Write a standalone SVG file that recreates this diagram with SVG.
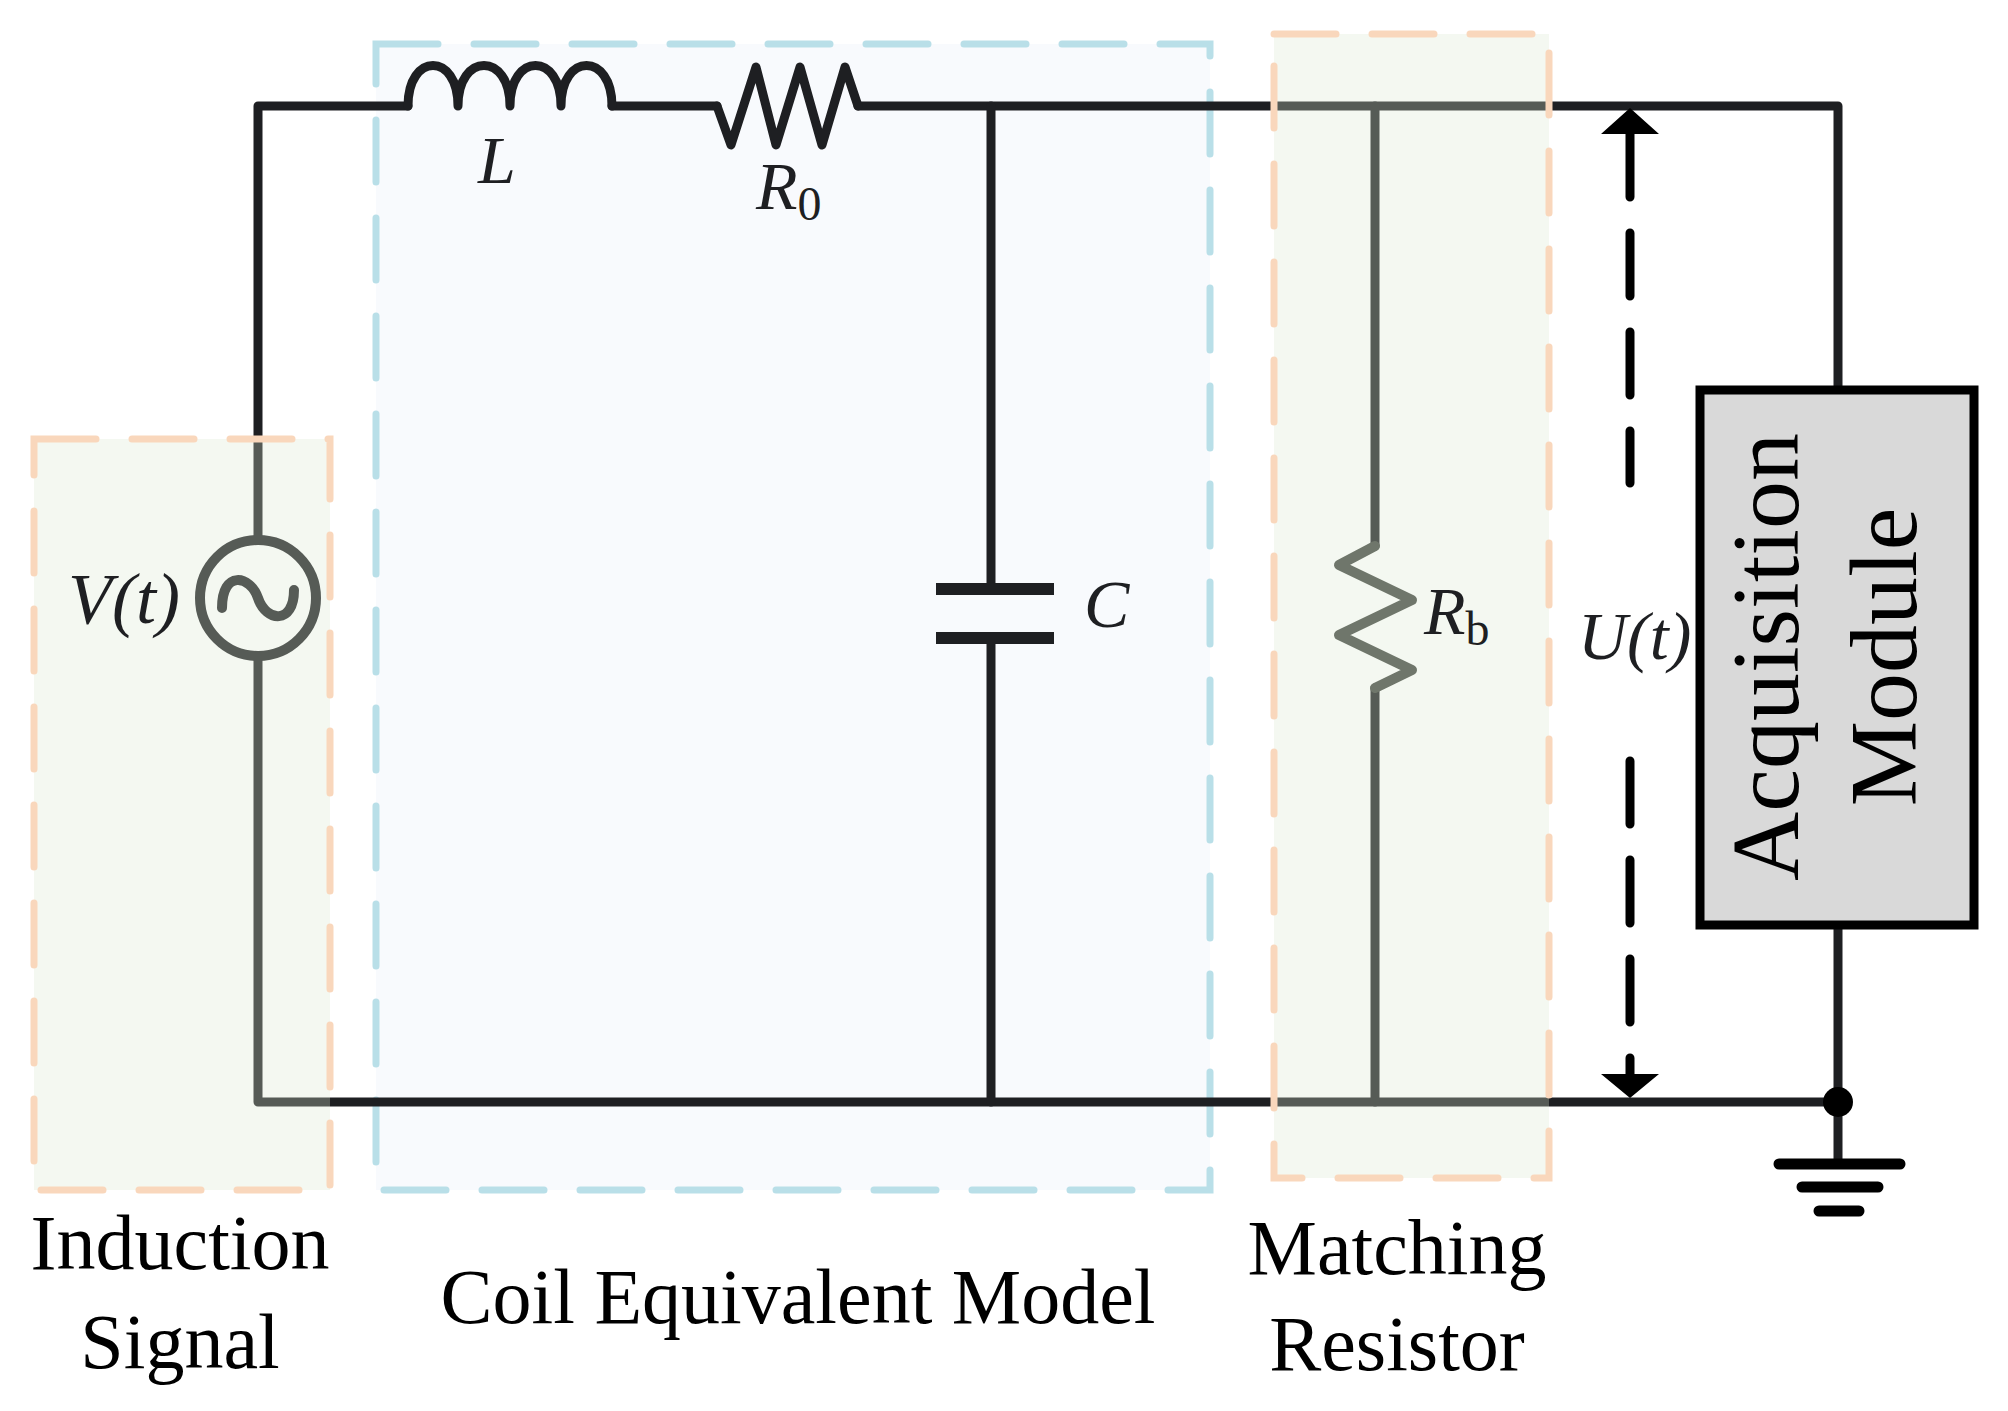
<svg xmlns="http://www.w3.org/2000/svg" width="2008" height="1411" viewBox="0 0 2008 1411">
<style>
.w{fill:none;stroke:#1e1f22;stroke-width:9;stroke-linejoin:round;stroke-linecap:round}
.t{font-family:"Liberation Serif","Times New Roman",serif;fill:#000}
.v{font-family:"Liberation Serif","Times New Roman",serif;font-style:italic;fill:#1e1f22}
.green{fill:#d9e9d2;fill-opacity:0.3;stroke:#f9d7bc;stroke-width:7;stroke-dasharray:62 36;stroke-linecap:round}
</style>
<rect width="2008" height="1411" fill="#fff"/>
<g id="coil-box"><rect x="376" y="44" width="834" height="1146" fill="#f8fafd" stroke="#b9dfe8" stroke-width="7" style="stroke-dasharray:62 36;stroke-linecap:round"/></g>
<g id="connectors">
<path class="w" d="M408,106 H258 V540 M258,658 V1102 H1838 V925 M1838,387 V106 H858 M612,106 H717"/>
<path class="w" d="M991,106 V589 M991,638 V1102 M1375,106 V546 M1375,688 V1102"/>
<path d="M1838,1102 V1164" class="w"/>
</g>
<g id="inductor"><path class="w" d="M408,106 C408,52 458,52 458,106 C458,52 510,52 510,106 C510,52 561,52 561,106 C561,52 612,52 612,106"/></g>
<g id="R0"><path class="w" d="M717,106 L731,145 L756,67 L776,145 L800,67 L822,145 L845,67 L858,106"/></g>
<g id="C"><path class="w" d="M936,589 H1054 M936,638 H1054" style="stroke-linecap:butt;stroke-width:12"/></g>
<g id="Rb"><path class="w" d="M1375,546 L1339,565 L1412,600 L1339,635 L1412,670 L1375,688" style="stroke:#41463f;stroke-width:10"/></g>
<g id="source"><circle cx="258" cy="598" r="58" fill="none" stroke="#1e1f22" stroke-width="10"/><path d="M222,608 C222,570 250,575 258,598 C266,622 294,625 294,590" fill="none" stroke="#1e1f22" stroke-width="10" stroke-linecap="round"/></g>
<g id="induction-box"><rect class="green" x="34" y="439" width="296" height="751"/></g>
<g id="matching-box"><rect class="green" x="1274" y="34" width="275" height="1144"/></g>
<g id="acq"><rect x="1700" y="390" width="274" height="535" fill="#d9d9d9" stroke="#000" stroke-width="9"/>
<text class="t" font-size="96" text-anchor="middle" transform="translate(1798,657) rotate(-90)">Acquisition</text>
<text class="t" font-size="96" text-anchor="middle" transform="translate(1916,657) rotate(-90)">Module</text></g>
<g id="arrow"><path d="M1630,134 V483 M1630,761 V1074" stroke="#000" stroke-width="9" stroke-dasharray="63 36" stroke-linecap="round" fill="none"/>
<path d="M1630,108 L1601,134 L1659,134 Z M1630,1098 L1601,1074 L1659,1074 Z" fill="#000"/></g>
<g id="ground"><circle cx="1838" cy="1102" r="15" fill="#000"/><path d="M1779,1164 H1900 M1802,1187 H1878 M1819,1211 H1859" stroke="#000" stroke-width="11" stroke-linecap="round"/></g>
<g id="labels">
<text class="v" x="478" y="183" font-size="68">L</text>
<text class="v" x="756" y="209" font-size="68">R<tspan font-style="normal" font-size="48" dy="11">0</tspan></text>
<text class="v" x="1084" y="627" font-size="68">C</text>
<text class="v" x="1424" y="634" font-size="68" fill="#41463f">R<tspan font-style="normal" font-size="48" dy="11">b</tspan></text>
<text class="v" x="68" y="623" font-size="72" fill="#41463f">V(t)</text>
<text class="v" x="1578" y="659" font-size="68">U(t)</text>
<text class="t" x="180" y="1269" font-size="78" text-anchor="middle">Induction</text>
<text class="t" x="180" y="1368" font-size="78" text-anchor="middle">Signal</text>
<text class="t" x="798" y="1323" font-size="78" text-anchor="middle">Coil Equivalent Model</text>
<text class="t" x="1397" y="1274" font-size="78" text-anchor="middle">Matching</text>
<text class="t" x="1397" y="1370" font-size="78" text-anchor="middle">Resistor</text>
</g>
</svg>
